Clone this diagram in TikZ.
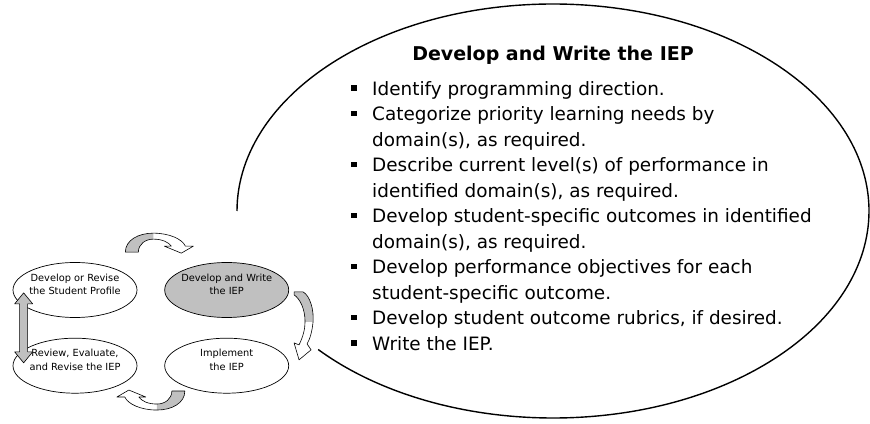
\documentclass[tikz,border=0pt]{standalone}
\usepackage{fontspec}
\setmainfont{DejaVu Sans}
\usetikzlibrary{positioning,shapes.geometric,calc}

\definecolor{stagegrey}{HTML}{C0C0C0}
\newcommand{\bul}{\llap{\raisebox{4.5pt}{\rule{5.5pt}{5.5pt}}\hspace{15.5pt}}}

\tikzset{
    stage/.style={ellipse, draw, line width=0.7pt, minimum width=124pt, minimum height=55pt, inner sep=0pt},
    stagelabel/.style={align=center, font=\fontsize{9.8}{13.3}\selectfont, yshift=6pt},
    turn/.pic={
        \fill[white] (-34,0) .. controls (-34,12) and (-21,19) .. (-6,19) .. controls (10,19) and (23,13) .. (26,6)
            -- (34,6) -- (22,-1) -- (5,6) -- (12,6) .. controls (9,10) and (3,13) .. (-6,13)
            .. controls (-14,13) and (-21,8) .. (-21,0) -- cycle;
        \fill[stagegrey] (-34,0) .. controls (-34,12) and (-21,19) .. (-6,19) -- (-6,13)
            .. controls (-14,13) and (-21,8) .. (-21,0) -- cycle;
        \draw[line width=0.6pt, line join=round] (-34,0) .. controls (-34,12) and (-21,19) .. (-6,19) .. controls (10,19) and (23,13) .. (26,6)
            -- (34,6) -- (22,-1) -- (5,6) -- (12,6) .. controls (9,10) and (3,13) .. (-6,13)
            .. controls (-14,13) and (-21,8) .. (-21,0) -- cycle;
    }
}

\begin{document}
\begin{tikzpicture}[x=1pt, y=1pt]
    \useasboundingbox (0,0) rectangle (870,423);

    % big ellipse, open on the left
    \coordinate (bigc) at (553,212);
    \draw[line width=1.4pt] (bigc) ++(222:316 and 207) arc[start angle=222, end angle=540, x radius=316, y radius=207];

    \node[font=\bfseries\fontsize{19}{22}\selectfont] (title) at (553,368) {Develop and Write the IEP};
    \node[align=left, inner sep=0pt, anchor=north west, font=\fontsize{18.4}{25.5}\selectfont] (steps) at (372,342) {%
        \bul Identify programming direction.\\
        \bul Categorize priority learning needs by\\
        domain(s), as required.\\
        \bul Describe current level(s) of performance in\\
        identified domain(s), as required.\\
        \bul Develop student-specific outcomes in identified\\
        domain(s), as required.\\
        \bul Develop performance objectives for each\\
        student-specific outcome.\\
        \bul Develop student outcome rubrics, if desired.\\
        \bul Write the IEP.};

    % the cycle
    \node[stage, label={[stagelabel]center:{Develop or Revise\\the Student Profile}}] (profile) at (75,133) {};
    \node[stage, fill=stagegrey, right=27pt of profile, label={[stagelabel]center:{Develop and Write\\the IEP}}] (write) {};
    \node[stage, below=20pt of profile, label={[stagelabel]center:{Review, Evaluate,\\and Revise the IEP}}] (review) {};
    \node[stage, right=27pt of review, label={[stagelabel]center:{Implement\\the IEP}}] (implement) {};

    \pic at ($(profile.north)!0.5!(write.north)+(8.5,10)$) {turn};
    \pic[rotate=180] at ($(review.south)!0.5!(implement.south)+(0,2.5)$) {turn};

    % right turn, write -> implement
    \coordinate (rt) at ($(write.east)!0.5!(implement.east)$);
    \begin{scope}[shift={(rt)}, line width=0.6pt, line join=round]
        \fill[white] (5,36) -- (14,36) .. controls (21,32) and (25,18) .. (24,6) .. controls (23,-4) and (21,-11) .. (18,-16)
            -- (22,-22) -- (10,-32) -- (5,-15) -- (10,-17) .. controls (14,-9) and (16,-1) .. (16,6)
            .. controls (16,19) and (11,29) .. (5,33) -- cycle;
        \fill[stagegrey] (5,36) -- (14,36) .. controls (21,32) and (25,18) .. (24,6) -- (16,6)
            .. controls (16,19) and (11,29) .. (5,33) -- cycle;
        \draw (5,36) -- (14,36) .. controls (21,32) and (25,18) .. (24,6) .. controls (23,-4) and (21,-11) .. (18,-16)
            -- (22,-22) -- (10,-32) -- (5,-15) -- (10,-17) .. controls (14,-9) and (16,-1) .. (16,6)
            .. controls (16,19) and (11,29) .. (5,33) -- cycle;
    \end{scope}

    % two-way arrow, profile <-> review
    \coordinate (lt) at ($(profile.west)!0.5!(review.west)+(11,0)$);
    \draw[fill=stagegrey, line width=0.6pt, line join=round] (lt) ++(0,35) -- ++(9,-11) -- ++(-5,0) -- ++(0,-48)
        -- ++(5,0) -- ++(-9,-11) -- ++(-9,11) -- ++(5,0) -- ++(0,48) -- ++(-5,0) -- cycle;
\end{tikzpicture}
\end{document}
